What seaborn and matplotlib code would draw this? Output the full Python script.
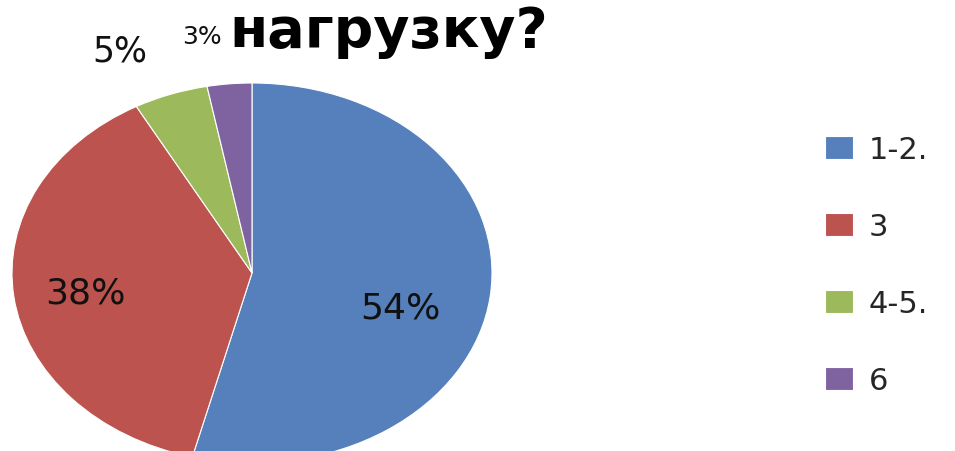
import matplotlib
matplotlib.use('Agg')
import matplotlib.pyplot as plt
import seaborn as sns

# data
categories = ['1-2.', '3', '4-5.', '6']
shares = [54, 38, 5, 3]
colors = ['#5580BC', '#BC534E', '#9CBA5C', '#7F63A1']
title_text = 'нагрузку?'

# label centres (data coords of the squashed pie) and font sizes
label_pos = [(0.617, -0.18), (-0.692, -0.10), (-0.55, 1.17), (-0.208, 1.25)]
label_size = [26, 26, 25, 18]

sns.set_theme(style='white')
plt.rcParams['font.family'] = ['DejaVu Sans']

fig = plt.figure(figsize=(9.55, 4.52), dpi=100)
W, H = 955, 452
# pie is an ellipse: x 12..492, y 84..464 (bottom cut by the figure edge)
ax = fig.add_axes([12 / W, 1 - 464 / H, 480 / W, 380 / H])

wedges, texts, autotexts = ax.pie(
    shares, colors=colors, startangle=90, counterclock=False,
    autopct='%1.0f%%', pctdistance=0.6,
    wedgeprops=dict(edgecolor='white', linewidth=0.8),
)
ax.set_aspect('auto')
ax.set_xlim(-1, 1)
ax.set_ylim(-1, 1)
for w in wedges:
    w.set_clip_on(False)

for t, pos, fs in zip(autotexts, label_pos, label_size):
    t.set_position(pos)
    t.set_fontsize(fs)
    t.set_color('#111111')
    t.set_ha('center')
    t.set_va('center')
    t.set_clip_on(False)

fig.text(229 / W, 1 - 47 / H, title_text, fontsize=40, fontweight='bold',
         ha='left', va='baseline', color='black')

fig.legend(wedges, categories, loc='center left',
           bbox_to_anchor=(825 / W, 1 - 266 / H), frameon=False,
           fontsize=22, handlelength=0.92, handleheight=0.78,
           handletextpad=0.5, labelspacing=1.57,
           borderpad=0, borderaxespad=0)

fig.savefig('out.png', dpi=100)
